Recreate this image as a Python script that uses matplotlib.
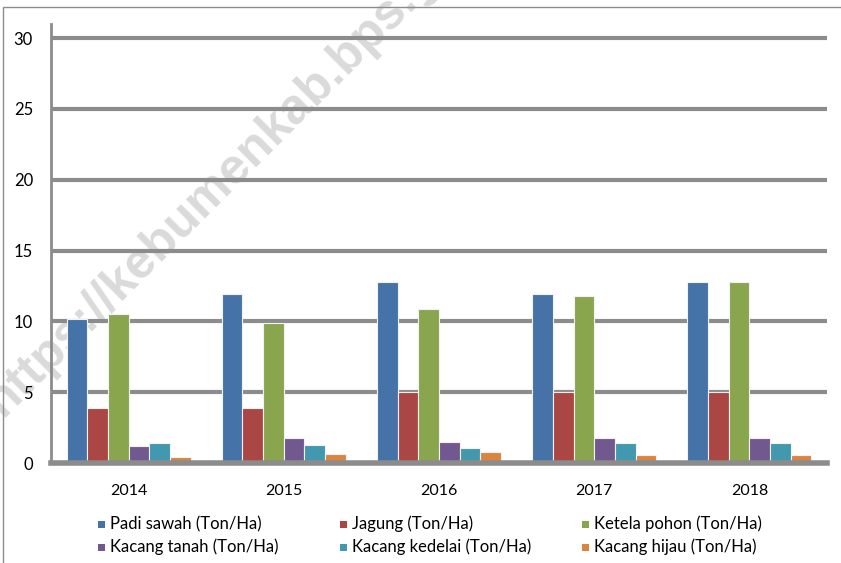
import matplotlib
matplotlib.use("Agg")
import matplotlib.pyplot as plt
import numpy as np
from matplotlib.patches import Rectangle

years = ["2014", "2015", "2016", "2017", "2018"]
padi_sawah = [10.2, 11.9, 12.8, 11.9, 12.8]
jagung = [3.9, 3.9, 5.0, 5.0, 5.0]
ketela_pohon = [10.5, 9.9, 10.9, 11.8, 12.8]
kacang_tanah = [1.2, 1.8, 1.45, 1.8, 1.8]
kacang_kedelai = [1.4, 1.3, 1.05, 1.4, 1.4]
kacang_hijau = [0.4, 0.65, 0.75, 0.55, 0.55]

series_names = ["Padi sawah (Ton/Ha)", "Jagung (Ton/Ha)", "Ketela pohon (Ton/Ha)",
                "Kacang tanah (Ton/Ha)", "Kacang kedelai (Ton/Ha)", "Kacang hijau (Ton/Ha)"]
series_values = [padi_sawah, jagung, ketela_pohon, kacang_tanah, kacang_kedelai, kacang_hijau]
colors = ["#4572A7", "#AA4643", "#89A54E", "#71588F", "#4198AF", "#DB843D"]
yticks = [0, 5, 10, 15, 20, 25, 30]

plt.rcParams['font.family'] = ['Lato', 'DejaVu Sans']

W, H = 841, 563
fig = plt.figure(figsize=(W / 100, H / 100), dpi=100)
fig.patch.set_facecolor("white")

# outer border
fig.add_artist(Rectangle((3 / W, -0.1), 1.2, (H - 7) / H + 0.1, transform=fig.transFigure,
                         fill=False, edgecolor="#8c8c8c", linewidth=1.0))

# watermark (behind the chart)
fig.text(2 / W, 145 / H, "https://kebumenkab.bps.go.id", fontsize=36, fontweight="bold",
         family="Liberation Sans", color="#dadada", rotation=45, rotation_mode="anchor",
         ha="left", va="baseline", zorder=0.5)

ax = fig.add_axes([51 / W, 1 - 463 / H, (827 - 51) / W, (463 - 24) / H])
ax.set_zorder(1)
ax.patch.set_alpha(0)
ax.set_xlim(-0.5, len(years) - 0.5)
ax.set_ylim(0, 31)

n = len(series_values)
group_w = 0.8
bw = group_w / n
x = np.arange(len(years))
for i, (name, vals, c) in enumerate(zip(series_names, series_values, colors)):
    ax.bar(x - group_w / 2 + bw * (i + 0.5), vals, width=bw, color=c,
           edgecolor="#f2f2f2", linewidth=0.8, zorder=3, label=name)

ax.set_yticks(yticks)
ax.set_yticklabels([str(t) for t in yticks], fontsize=12)
ax.set_xticks(x)
ax.set_xticklabels(years, fontsize=11.5)
ax.tick_params(axis="y", length=0, pad=13)
ax.tick_params(axis="x", length=0, pad=15)
for t in yticks[1:]:
    ax.axhline(t, color="#8c8c8c", linewidth=3, zorder=2)

for s in ["top", "right"]:
    ax.spines[s].set_visible(False)
ax.spines["left"].set_color("#8c8c8c")
ax.spines["left"].set_linewidth(2)
ax.spines["bottom"].set_color("#8c8c8c")
ax.spines["bottom"].set_linewidth(4)
ax.spines["bottom"].set_zorder(4)

# legend (manual grid, 3 columns x 2 rows)
col_x = [101, 343, 585]
row_y = [524, 547]
for i, (name, c) in enumerate(zip(series_names, colors)):
    r, cc = divmod(i, 3)
    px, py = col_x[cc], row_y[r]
    fig.add_artist(Rectangle(((px - 3.5) / W, 1 - (py + 3.5) / H), 7 / W, 7 / H,
                             transform=fig.transFigure, facecolor=c, edgecolor="none"))
    fig.text((px + 9) / W, 1 - py / H, name, fontsize=12, va="center", ha="left",
             color="#000000")

fig.savefig("out.png", dpi=100, facecolor="white")
